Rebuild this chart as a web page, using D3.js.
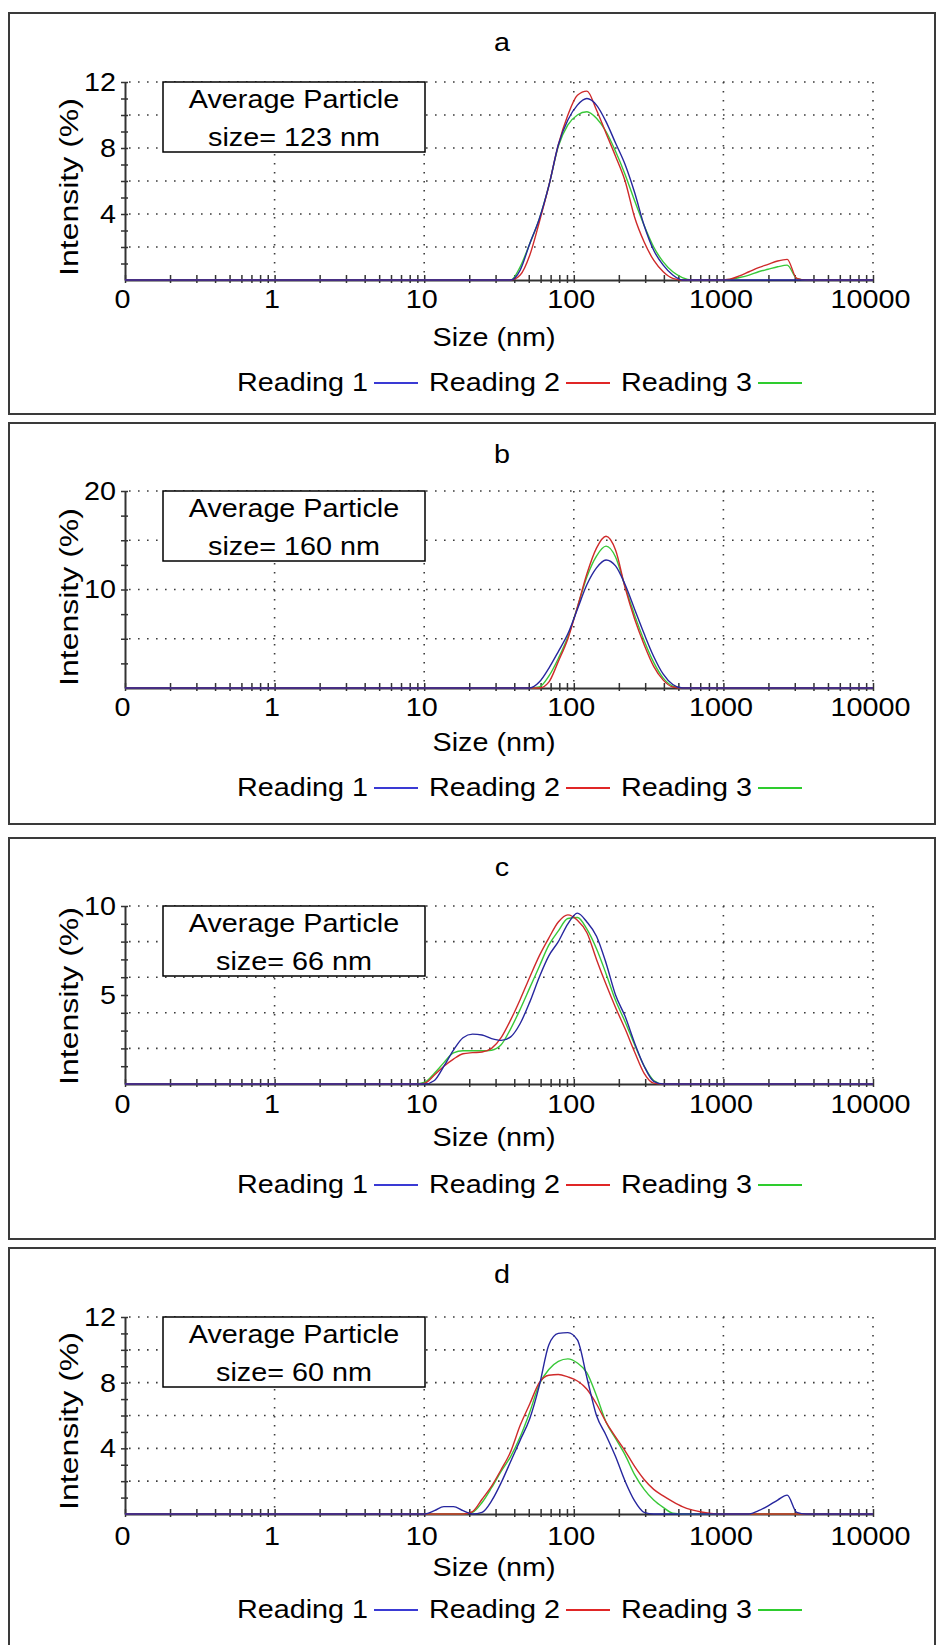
<!DOCTYPE html>
<html><head><meta charset="utf-8">
<script src="https://cdn.jsdelivr.net/npm/d3@7"></script>
<style>
body{margin:0;background:#fff}
svg text{font-family:"Liberation Sans",Arial,sans-serif;fill:#000}
</style>
</head><body>
<svg id="chart" width="936" height="1645"></svg>
<script>
// ---------- DATA ----------
const sizes = [0.1, 8.721, 10.10, 11.70, 13.54, 15.69, 18.17, 21.04, 24.36, 28.21, 32.67, 37.84, 43.82, 50.75, 58.77, 68.06, 78.82, 91.28, 105.7, 122.4, 141.8, 164.2, 190.1, 220.2, 255.0, 295.3, 342.0, 396.1, 458.7, 531.2, 615.1, 712.4, 825.0, 955.4, 1106, 1281, 1484, 1718, 1990, 2305, 2669, 3091, 3580, 4145, 10000];

const seriesNames = ["Reading 1", "Reading 2", "Reading 3"];
const panelLabels = ["a", "b", "c", "d"];
const averageSizes = ["size= 123 nm", "size= 160 nm", "size= 66 nm", "size= 60 nm"];
const boxTitle = "Average Particle";
const xTickValues = [0.1, 1, 10, 100, 1000, 10000];
const xTickLabels = ["0", "1", "10", "100", "1000", "10000"];
const xMinorTicks = [0.2,0.3,0.4,0.5,0.6,0.7,0.8,0.9,2,3,4,5,6,7,8,9,20,30,40,50,60,70,80,90,200,300,400,500,600,700,800,900,2000,3000,4000,5000,6000,7000,8000,9000];
const xTitle = "Size (nm)";
const yTitle = "Intensity (%)";
const yMax = [12, 20, 10, 12];
const yLabelTicks = [[4, 8, 12], [10, 20], [5, 10], [4, 8, 12]];
const yGridTicks = [[2, 4, 6, 8, 10, 12], [5, 10, 15, 20], [2, 4, 6, 8, 10], [2, 4, 6, 8, 10, 12]];
const yMinorTicks = [[1,2,3,4,5,6,7,8,9,10,11,12], [2.5,5,7.5,10,12.5,15,17.5,20], [1,2,3,4,5,6,7,8,9,10], [1,2,3,4,5,6,7,8,9,10,11,12]];

// panel a
const aReading1 = [0,0,0,0,0,0,0,0,0,0,0,0, 0.6,2.2,3.7,5.7,8.2,9.7,10.6,11.0,10.6,9.6,8.3,7.0,5.3,3.3,1.8,0.9,0.3, 0,0,0,0,0,0,0,0,0,0,0,0,0,0,0,0];
const aReading2 = [0,0,0,0,0,0,0,0,0,0,0,0, 0.3,1.5,3.5,5.7,8.2,10.0,11.2,11.45,10.3,8.9,7.5,6.0,3.8,2.3,1.2,0.5,0.1, 0,0,0,0,0, 0.05,0.25,0.5,0.75,0.95,1.15,1.25,0.1, 0,0,0];
const aReading3 = [0,0,0,0,0,0,0,0,0,0,0,0, 0.8,2.2,3.7,5.7,8.1,9.4,10.0,10.2,9.8,9.0,7.8,6.4,4.8,3.3,2.0,1.1,0.5,0.15, 0,0,0,0, 0.03,0.15,0.3,0.5,0.65,0.8,0.9,0.1, 0,0,0];
// panel b
const bReading1 = [0,0,0,0,0,0,0,0,0,0,0,0,0,0, 0.6,2.0,3.7,5.5,8.0,10.5,12.2,13.0,12.4,10.5,8.0,5.5,3.2,1.4,0.35, 0,0,0,0,0,0,0,0,0,0,0,0,0,0,0,0];
const bReading2 = [0,0,0,0,0,0,0,0,0,0,0,0,0,0,0, 0.6,2.7,5.0,8.2,11.6,14.2,15.4,14.0,10.2,7.0,4.4,2.2,0.8,0.1, 0,0,0,0,0,0,0,0,0,0,0,0,0,0,0,0];
const bReading3 = [0,0,0,0,0,0,0,0,0,0,0,0,0,0, 0.1,1.2,3.0,5.2,8.2,11.3,13.4,14.4,13.3,10.3,7.4,4.8,2.6,1.0,0.2, 0,0,0,0,0,0,0,0,0,0,0,0,0,0,0,0];
// panel c
const cReading1 = [0,0,0, 0.2,1.0,1.9,2.6,2.8,2.75,2.55,2.45,2.65,3.4,4.6,6.0,7.2,8.0,9.0,9.6,9.1,8.3,6.8,5.0,3.8,2.3,1.0,0.15, 0,0,0,0,0,0,0,0,0,0,0,0,0,0,0,0,0,0];
const cReading2 = [0,0, 0.05,0.5,1.0,1.4,1.7,1.76,1.8,2.0,2.6,3.6,4.75,6.0,7.2,8.2,9.1,9.5,9.2,8.5,7.0,5.6,4.3,3.1,1.8,0.6,0.05, 0,0,0,0,0,0,0,0,0,0,0,0,0,0,0,0,0,0];
const cReading3 = [0,0, 0.1,0.6,1.2,1.75,1.87,1.87,1.87,1.9,2.2,3.1,4.2,5.4,6.6,7.8,8.6,9.3,9.35,8.7,7.6,6.2,4.7,3.5,2.2,1.0,0.2, 0,0,0,0,0,0,0,0,0,0,0,0,0,0,0,0,0,0];
// panel d
const dReading1 = [0,0,0, 0.2,0.45,0.45,0.2,0,0.1,0.8,1.9,3.2,4.5,5.8,7.8,10.3,11.0,11.05,10.6,8.3,6.0,4.8,3.5,2.0,0.8,0.1, 0,0,0,0,0,0,0,0,0,0,0, 0.2,0.5,0.85,1.15,0.1, 0,0,0];
const dReading2 = [0,0,0,0,0,0,0, 0.15,0.9,1.7,2.7,3.8,5.4,6.7,8.0,8.45,8.5,8.35,8.1,7.6,6.7,5.6,4.7,3.85,2.9,2.1,1.5,1.1,0.75,0.45,0.25,0.12,0.04, 0,0,0,0,0,0,0,0,0,0,0,0];
const dReading3 = [0,0,0,0,0,0,0, 0.1,0.7,1.6,2.6,3.5,4.7,6.2,7.9,8.8,9.3,9.45,9.2,8.6,7.2,5.6,4.6,3.6,2.4,1.5,0.85,0.4,0.05, 0,0,0,0,0,0,0,0,0,0,0,0,0,0,0,0];

const panelSeries = [
  [aReading1, aReading2, aReading3],
  [bReading1, bReading2, bReading3],
  [cReading1, cReading2, cReading3],
  [dReading1, dReading2, dReading3]
];

// ---------- LAYOUT / STYLE ----------
const layouts = [
  {top: 13,   plotTop: 69, plotBottom: 267, title: 30, tickLab: 287, xTitle: 325, yTitle: 174, legend: 370},
  {top: 423,  plotTop: 68, plotBottom: 265, title: 32, tickLab: 285, xTitle: 320, yTitle: 174, legend: 365},
  {top: 838,  plotTop: 68, plotBottom: 246, title: 30, tickLab: 267, xTitle: 300, yTitle: 158, legend: 347},
  {top: 1248, plotTop: 69, plotBottom: 266, title: 27, tickLab: 289, xTitle: 320, yTitle: 173, legend: 362}
];
const curveColors = ["#26269e", "#cf2a2a", "#38c838"];
const legendColors = ["#3a3ad4", "#e02626", "#2ecc2e"];
const FS = 25, SX = 1.15, SX_Y = 1.28;
const plotLeft = 125, plotRight = 873;

const svg = d3.select("#chart");
const x = d3.scaleLog().domain([0.1, 10000]).range([plotLeft, plotRight]);

function txt(g, px, py, s, anchor, rot, sx) {
  return g.append("text")
    .attr("transform", `translate(${px},${py})${rot ? ` rotate(${rot})` : ""} scale(${sx || SX},1)`)
    .attr("text-anchor", anchor || "middle")
    .attr("dominant-baseline", "central")
    .attr("font-size", FS)
    .text(s);
}

layouts.forEach((L, p) => {
  const g = svg.append("g").attr("transform", `translate(0,${L.top})`);
  const y = d3.scaleLinear().domain([0, yMax[p]]).range([L.plotBottom, L.plotTop]);

  // frame
  g.append("rect").attr("x", 9).attr("y", 0).attr("width", 926).attr("height", 401)
    .attr("fill", "none").attr("stroke", "#3a3a3a").attr("stroke-width", 2);

  // title
  txt(g, 502, L.title, panelLabels[p]);

  // grid
  const grid = g.append("g").attr("stroke", "#3c3c3c").attr("stroke-width", 1.6).attr("stroke-dasharray", "1.6,7.4");
  grid.selectAll("line.h").data(yGridTicks[p]).join("line")
    .attr("x1", plotLeft + 4).attr("x2", plotRight).attr("y1", d => y(d)).attr("y2", d => y(d));
  grid.selectAll("line.v").data(xTickValues.slice(1)).join("line")
    .attr("x1", d => x(d)).attr("x2", d => x(d)).attr("y1", L.plotTop).attr("y2", L.plotBottom);

  // y axis (minor ticks crossing the axis)
  const yAxis = d3.axisLeft(y).tickValues(yMinorTicks[p]).tickSizeInner(4).tickSizeOuter(0).tickFormat("");
  const ya = g.append("g").attr("transform", `translate(${plotLeft},0)`).call(yAxis);
  ya.select(".domain").attr("stroke", "#333").attr("stroke-width", 2);
  ya.selectAll(".tick line").attr("stroke", "#333").attr("stroke-width", 1.5).attr("x2", -4).attr("x1", 3);
  // y labels
  const yLab = d3.axisLeft(y).tickValues(yLabelTicks[p]).tickSize(0).tickPadding(0).tickFormat(d3.format("d"));
  const yl = g.append("g").attr("transform", `translate(${plotLeft - 9},0)`).call(yLab);
  yl.select(".domain").remove();
  yl.selectAll("text").attr("font-size", FS).attr("font-family", '"Liberation Sans",Arial,sans-serif')
    .attr("x", 0).attr("dy", null).attr("dominant-baseline", "central").attr("transform", `scale(${SX},1)`);

  // x axis
  const xAxis = d3.axisBottom(x).tickValues(xMinorTicks.concat(xTickValues)).tickSizeInner(3).tickSizeOuter(0).tickFormat("");
  const xa = g.append("g").attr("transform", `translate(0,${L.plotBottom})`).call(xAxis);
  xa.select(".domain").attr("stroke", "#333").attr("stroke-width", 2);
  xa.selectAll(".tick line").attr("stroke", "#333").attr("stroke-width", 1.5).attr("y1", -5).attr("y2", 3);
  const xLab = d3.axisBottom(x).tickValues(xTickValues).tickSize(0).tickPadding(0)
    .tickFormat((d, i) => xTickLabels[i]);
  const xl = g.append("g").attr("transform", `translate(-3,${L.tickLab})`).call(xLab);
  xl.select(".domain").remove();
  xl.selectAll("text").attr("font-size", FS).attr("font-family", '"Liberation Sans",Arial,sans-serif')
    .attr("y", 0).attr("dy", null).attr("dominant-baseline", "central").attr("transform", `scale(${SX},1)`);

  // curves (Reading 3, Reading 2, then Reading 1 on top)
  const line = d3.line().x(d => x(d[0])).y(d => y(d[1])).curve(d3.curveMonotoneX);
  [2, 1, 0].forEach(k => {
    const vals = panelSeries[p][k];
    g.append("path").datum(sizes.map((s, i) => [s, vals[i]]))
      .attr("d", line).attr("fill", "none").attr("stroke", curveColors[k]).attr("stroke-width", 1.4);
  });

  // annotation box
  g.append("rect").attr("x", 163).attr("y", L.plotTop).attr("width", 262).attr("height", 70)
    .attr("fill", "#fff").attr("stroke", "#000").attr("stroke-width", 1.5);
  txt(g, 294, L.plotTop + 18, boxTitle);
  txt(g, 294, L.plotTop + 56, averageSizes[p]);

  // axis titles
  txt(g, 494, L.xTitle, xTitle);
  txt(g, 69, L.yTitle, yTitle, "middle", -90, SX_Y);

  // legend
  seriesNames.forEach((name, k) => {
    const x0 = 237 + k * 192;
    txt(g, x0, L.legend, name, "start");
    g.append("line").attr("x1", x0 + 137).attr("x2", x0 + 181).attr("y1", L.legend).attr("y2", L.legend)
      .attr("stroke", legendColors[k]).attr("stroke-width", 2);
  });
});
</script>
</body></html>
